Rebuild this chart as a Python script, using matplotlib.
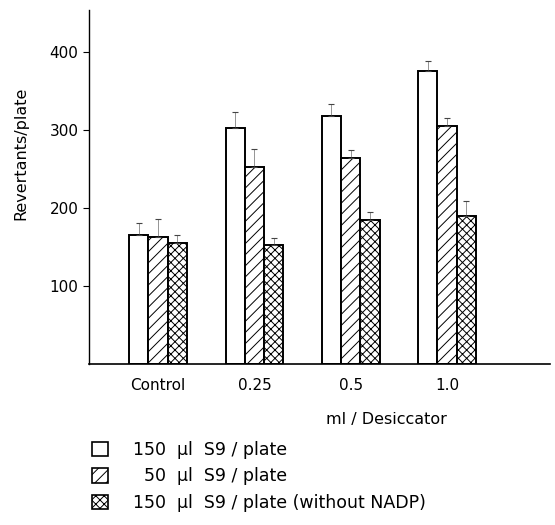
import numpy as np
import matplotlib
matplotlib.use("Agg")
import matplotlib.pyplot as plt
from matplotlib.patches import Patch

# Revertants per plate
categories = ["Control", "0.25", "0.5", "1.0"]
s9_150 = [165, 303, 318, 376]
s9_50 = [163, 252, 264, 305]
s9_150_no_nadp = [155, 153, 185, 190]

# error bars (upper half)
err_150 = [16, 20, 16, 12]
err_50 = [23, 24, 10, 10]
err_no_nadp = [10, 8, 10, 19]

labels = ["150  \u03bcl  S9 / plate",
          "  50  \u03bcl  S9 / plate",
          "150  \u03bcl  S9 / plate (without NADP)"]

plt.rcParams["hatch.linewidth"] = 0.7

fig = plt.figure(figsize=(5.55, 5.25), dpi=100)
ax = fig.add_axes([0.160, 0.307, 0.831, 0.674])

x = np.arange(len(categories))
w = 0.2
series = [s9_150, s9_50, s9_150_no_nadp]
errs = [err_150, err_50, err_no_nadp]
hatches = [None, "///", "xxxx"]

for i, (vals, e, h) in enumerate(zip(series, errs, hatches)):
    pos = x + (i - 1) * w
    ax.bar(pos, vals, width=w, facecolor="white", edgecolor="black",
           linewidth=1.4, hatch=h)
    ax.errorbar(pos, vals, yerr=[np.zeros(len(e)), e], fmt="none",
                ecolor="#444444", elinewidth=0.4, capsize=2, capthick=0.8)

ax.set_xlim(-0.72, 4.07)
ax.set_ylim(0, 454)
ax.set_yticks([100, 200, 300, 400])
ax.set_xticks(x)
ax.set_xticklabels(categories)
ax.tick_params(axis="x", length=0, pad=10, labelsize=11)
ax.tick_params(axis="y", direction="out", length=4, width=0.8, labelsize=11)

for s in ["top", "right"]:
    ax.spines[s].set_visible(False)
ax.spines["left"].set_linewidth(1.0)
ax.spines["bottom"].set_linewidth(1.2)

ax.set_ylabel("Revertants/plate", fontsize=11.5)
ax.yaxis.set_label_coords(-0.132, 0.596)
ax.set_xlabel("ml / Desiccator", fontsize=11.5)
ax.xaxis.set_label_coords(0.645, -0.135)

handles = [Patch(facecolor="white", edgecolor="black", linewidth=1.2, hatch=h)
           for h in hatches]
fig.legend(handles, labels, loc="upper left", bbox_to_anchor=(0.15, 0.177),
           frameon=False, fontsize=12.5, handlelength=0.9, handleheight=0.9,
           handletextpad=1.45, labelspacing=0.5, borderpad=0)

fig.savefig("out.png", dpi=100)
